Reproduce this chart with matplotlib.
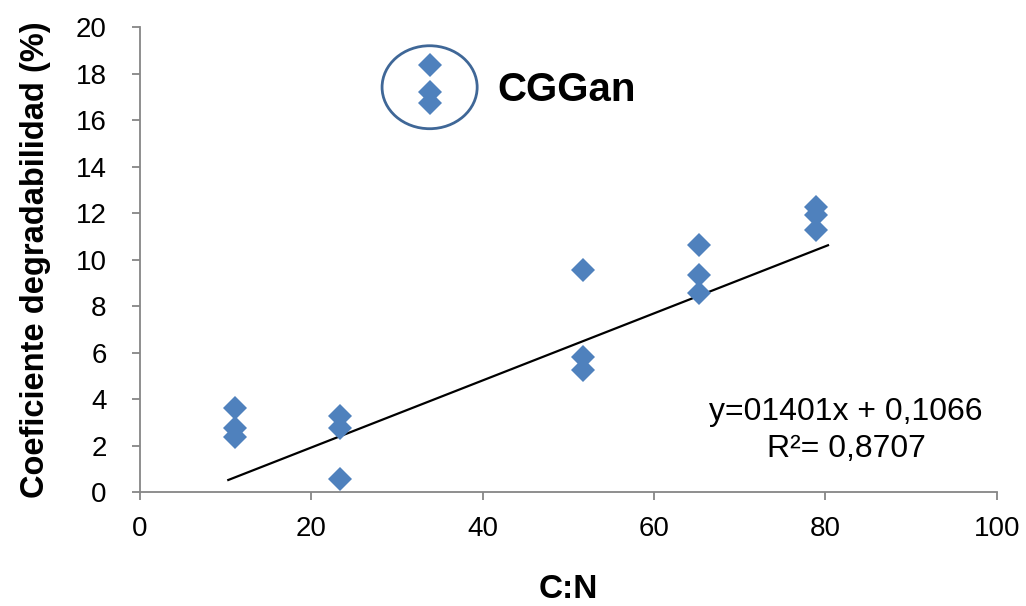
import matplotlib.pyplot as plt
from matplotlib.patches import Ellipse

plt.rcParams['font.family'] = ['Liberation Sans', 'DejaVu Sans']

# C:N ratio of each substrate and measured degradability (three replicates each)
cn_ratio = [11.1, 11.1, 11.1, 23.3, 23.3, 23.3, 33.8, 33.8, 33.8,
            51.7, 51.7, 51.7, 65.2, 65.2, 65.2, 78.9, 78.9, 78.9]
degradability = [3.61, 2.75, 2.37, 3.27, 2.75, 0.56, 18.37, 17.2, 16.73,
                 9.55, 5.81, 5.25, 10.62, 9.33, 8.56, 12.26, 11.91, 11.27]

# trend line as drawn on the chart
trend_x = [10.3, 80.3]
trend_y = [0.52, 10.62]

x_ticks = [0, 20, 40, 60, 80, 100]
y_ticks = [0, 2, 4, 6, 8, 10, 12, 14, 16, 18, 20]

fig = plt.figure(figsize=(10.26, 6.06), dpi=100)
ax = fig.add_axes([0.1365, 0.188, 0.835, 0.767])

ax.plot(cn_ratio, degradability, linestyle='none', marker='D', ms=12,
        color='#4f81bd', markeredgewidth=0, zorder=3)
ax.plot(trend_x, trend_y, color='black', lw=1.6, zorder=2)

# outlier group highlighted
ax.add_patch(Ellipse((33.8, 17.42), 11.1, 3.57, fill=False,
                     edgecolor='#3f6797', lw=2, zorder=4))
ax.text(41.7, 17.3, 'CGGan', fontsize=29, fontweight='bold', va='center', ha='left')

ax.text(82.4, 3.44, 'y=01401x + 0,1066', fontsize=23, ha='center', va='center')
ax.text(82.4, 1.85, 'R²= 0,8707', fontsize=23, ha='center', va='center')

ax.set_xlim(0, 100)
ax.set_ylim(0, 20)
ax.set_xticks(x_ticks)
ax.set_yticks(y_ticks)

for side in ['top', 'right']:
    ax.spines[side].set_visible(False)
for side in ['left', 'bottom']:
    ax.spines[side].set_color('#868686')
    ax.spines[side].set_linewidth(1.3)
ax.tick_params(direction='out', length=6, width=1.3, color='#868686',
               labelsize=20, labelcolor='black')
ax.tick_params(axis='x', pad=11)
ax.tick_params(axis='y', pad=18)

ax.set_xlabel('C:N', fontsize=24, fontweight='bold', labelpad=23)
ax.set_ylabel('Coeficiente degradabilidad (%)', fontsize=23.5, fontweight='bold', labelpad=18)

fig.savefig('out.png', dpi=100)
